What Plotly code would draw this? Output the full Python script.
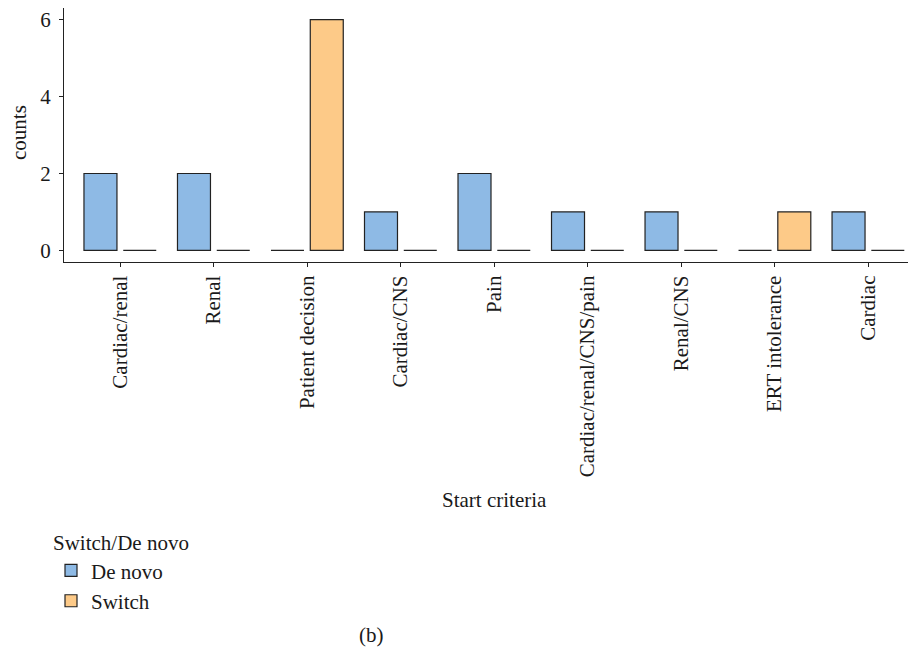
import plotly.graph_objects as go

categories = ["Cardiac/renal", "Renal", "Patient decision", "Cardiac/CNS", "Pain",
              "Cardiac/renal/CNS/pain", "Renal/CNS", "ERT intolerance", "Cardiac"]
de_novo = [2, 2, 0, 1, 2, 1, 1, 0, 1]
switch = [0, 0, 6, 0, 0, 0, 0, 1, 0]
y_ticks = [0, 2, 4, 6]

FONT = "Liberation Serif"
FS = 21
TXT = "#1a1a1a"
W, H = 916, 648
# the page body adds an 8px offset, so figure coordinates are page coordinates - 8
L, R, T, B = 56, 10, 0, 394
pw, ph = W - L - R, H - T - B

fig = go.Figure()
fig.add_trace(go.Bar(x=categories, y=de_novo, name="De novo",
                     marker=dict(color="#8EBAE5", line=dict(color="#222222", width=1.2))))
fig.add_trace(go.Bar(x=categories, y=switch, name="Switch",
                     marker=dict(color="#FDCA88", line=dict(color="#222222", width=1.2))))

def px_x(x):
    return (x - L) / pw

def px_y(y):
    return (H - B - y) / ph

fig.update_layout(
    width=W, height=H,
    margin=dict(l=L, r=R, t=T, b=B, autoexpand=False),
    paper_bgcolor="white", plot_bgcolor="white",
    barmode="group", bargap=0.16, bargroupgap=0.16,
    font=dict(family=FONT, size=FS, color=TXT),
    xaxis=dict(range=[-0.6, 8.49], showline=True, linecolor="#222222", linewidth=1.3,
               ticks="outside", ticklen=4, tickcolor="#222222", tickwidth=1.3,
               tickangle=-90, ticklabelstandoff=0, showgrid=False, zeroline=False,
               automargin=False, ticklabeloverflow="allow",
               tickfont=dict(family=FONT, size=FS, color=TXT)),
    yaxis=dict(range=[-0.3, 6.3], showline=True, linecolor="#222222", linewidth=1.3,
               ticks="outside", ticklen=4, tickcolor="#222222", tickwidth=1.3,
               tickvals=y_ticks, ticklabelstandoff=4, showgrid=False, zeroline=False,
               automargin=False, ticklabeloverflow="allow",
               tickfont=dict(family=FONT, size=FS, color=TXT)),
    showlegend=True,
    legend=dict(xref="container", yref="container", x=43 / W, y=1 - 515 / H,
                xanchor="left", yanchor="top",
                title=dict(text="Switch/De novo", font=dict(family=FONT, size=FS, color=TXT)),
                font=dict(family=FONT, size=FS, color=TXT), bgcolor="rgba(0,0,0,0)"),
    annotations=[
        dict(text="Start criteria", xref="paper", yref="paper", x=px_x(486), y=px_y(492),
             xanchor="center", yanchor="middle",
             showarrow=False, font=dict(family=FONT, size=FS, color=TXT)),
        dict(text="counts", xref="paper", yref="paper", x=px_x(11), y=px_y(125),
             xanchor="center", yanchor="middle",
             textangle=-90, showarrow=False, font=dict(family=FONT, size=FS, color=TXT)),
        dict(text="(b)", xref="paper", yref="paper", x=px_x(363), y=px_y(627),
             xanchor="center", yanchor="middle",
             showarrow=False, font=dict(family=FONT, size=FS, color=TXT)),
    ],
)

fig.write_html("out.html")
